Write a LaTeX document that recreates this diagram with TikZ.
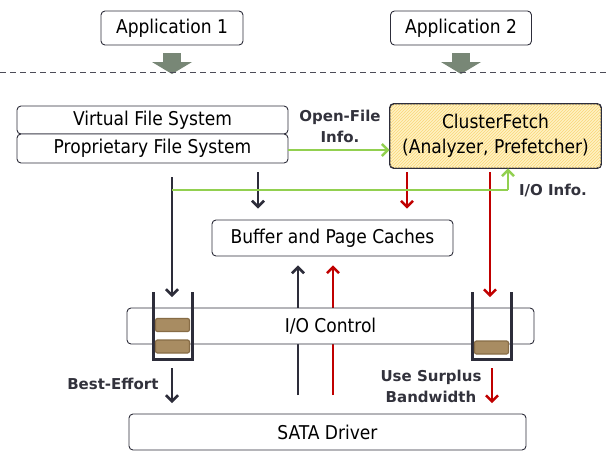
\documentclass[tikz,border=0pt]{standalone}
\usepackage{fontspec}
\setmainfont{DejaVu Sans Condensed}
\newfontfamily\lblfont{DejaVu Sans}
\usepackage{tikz}
\usetikzlibrary{positioning, arrows.meta, patterns, calc}
\definecolor{darkline}{RGB}{45,45,58}
\definecolor{redline}{RGB}{192,0,0}
\definecolor{greenline}{RGB}{146,208,80}
\definecolor{blockgray}{RGB}{120,135,118}
\definecolor{packet}{RGB}{168,140,98}
\definecolor{packetedge}{RGB}{135,108,70}
\definecolor{hatchyellow}{RGB}{255,242,195}
\definecolor{hatchline}{RGB}{250,214,120}
\definecolor{labelgray}{RGB}{50,50,60}

\tikzset{
  layer/.style={draw=darkline, fill=white, rounded corners=4pt, line width=0.9pt, inner sep=0pt, font=\fontsize{19}{23}\selectfont},
  pkt/.style={draw=packetedge, fill=packet, rounded corners=2pt, line width=1.2pt, minimum width=34, minimum height=13},
  darkarrow/.style={draw=darkline, line width=2.6pt, -{Straight Barb[length=6pt,width=12pt]}},
  redarrow/.style={draw=redline, line width=2.4pt, -{Straight Barb[length=6pt,width=12pt]}},
  greenarrow/.style={draw=greenline, line width=2.4pt, -{Straight Barb[length=6pt,width=12pt]}},
  queue/.style={draw=darkline, line width=3pt},
  lbl/.style={font=\lblfont\bfseries\fontsize{15}{21}\selectfont, text=labelgray, align=center}
}

\begin{document}
\begin{tikzpicture}[x=1pt, y=-1pt]
\useasboundingbox (0,0) rectangle (608,451);

% Applications
\node[layer, minimum width=142, minimum height=34] (app1) at (172,28) {Application 1};
\node[layer, minimum width=141, minimum height=34] (app2) at (461,28) {Application 2};

% Fleches grises
\foreach \x/\n in {172/ga1, 461/ga2} {
  \fill[blockgray] (\x-9,53) rectangle (\x+9,62);
  \fill[blockgray] (\x-20,62) -- (\x+20,62) -- (\x,74) -- cycle;
  \coordinate (\n) at (\x,74);
}

% Separation user / kernel
\draw[darkline!85, thick, dash pattern=on 6pt off 4pt] (0,72) -- (608,72);

% Systemes de fichiers
\node[layer, minimum width=271, minimum height=28] (vfs) at (152.5,120) {Virtual File System};
\node[layer, minimum width=271, minimum height=29] (pfs) at (152.5,148.5) {Proprietary File System};

% ClusterFetch
\node[layer, minimum width=211, minimum height=64, fill=hatchyellow] (cf) at (495.5,136) {};
\fill[pattern=north east lines, pattern color=hatchline, rounded corners=4pt]
  (cf.south west) rectangle (cf.north east);
\draw[darkline, line width=0.9pt, rounded corners=4pt] (cf.south west) rectangle (cf.north east);
\node[font=\fontsize{19}{25}\selectfont, align=center] (cftext) at (cf) {ClusterFetch\\(Analyzer, Prefetcher)};

% Coordonnees des fleches
\coordinate (d1top) at (172,177);
\coordinate (d1bot) at (172,297);
\coordinate (d2top) at (258,172);
\coordinate (r1top) at (407,172);
\coordinate (r2top) at (490,172);
\coordinate (r2bot) at (490,297);
\coordinate (gstart) at (172,190);
\coordinate (gturn) at (508,190);
\coordinate (u1bot) at (298,395);
\coordinate (u2bot) at (333,395);
\coordinate (betop) at (172,368);
\coordinate (bebot) at (172,403);
\coordinate (sbtop) at (492,368);
\coordinate (sbbot) at (492,403);

% Caches
\node[layer, minimum width=241, minimum height=36] (bpc) at (332.5,238) {Buffer and Page Caches};

% Chemins vers le bas
\draw[darkarrow] (d1top) -- (d1bot);
\draw[darkarrow, shorten >=11pt] (d2top) -- (d2top |- bpc.north);
\draw[redarrow, shorten >=11pt] (r1top) -- (r1top |- bpc.north);
\draw[redarrow] (r2top) -- (r2bot);

% Informations vers ClusterFetch
\draw[greenline, line width=2.4pt] (gstart) -- (gturn);
\draw[greenarrow] (gturn) -- (gturn |- cf.south);
\draw[greenarrow] (pfs.east |- 0,150) -- (cf.west |- 0,150);

% Chemins vers le haut
\draw[darkarrow, shorten >=9pt] (u1bot) -- (u1bot |- bpc.south);
\draw[redarrow, shorten >=9pt] (u2bot) -- (u2bot |- bpc.south);

% Couches basses
\node[layer, minimum width=407, minimum height=36] (ioc) at (330.5,326) {I/O Control};
\node[layer, minimum width=397, minimum height=36] (sata) at (327.5,432) {SATA Driver};

% Files d'attente
\draw[queue] (153,292) |- (192,359) -- (192,292);
\draw[queue] (472,292) |- (511,359) -- (511,292);
\node[pkt] (pl1) at (172.5,325) {};
\node[pkt] (pl2) at (172.5,346.5) {};
\node[pkt] (pr1) at (491.5,347.5) {};

% Vers le pilote SATA
\draw[darkarrow] (betop) -- (bebot);
\draw[redarrow] (sbtop) -- (sbbot);

% Labels
\node[lbl] (ofinfo) at (340,126) {Open-File\\Info.};
\node[lbl] (ioinfo) at (553,190) {I/O Info.};
\node[lbl, anchor=east] (belbl) at (162,384) {Best-Effort};
\node[lbl] (sblbl) at (431,386.5) {Use Surplus\\Bandwidth};

\end{tikzpicture}
\end{document}
